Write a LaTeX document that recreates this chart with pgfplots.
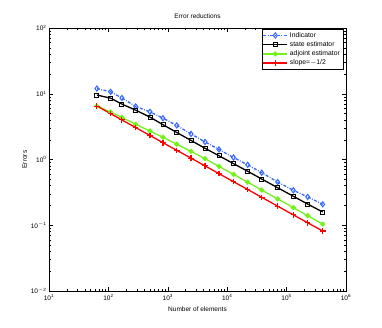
\documentclass[border=0pt]{standalone}
\usepackage{fontspec}
\setmainfont{Liberation Sans}
\usepackage{pgfplots}
\pgfplotsset{compat=1.18}
\definecolor{mblue}{rgb}{0.2,0.4,1}
\definecolor{mgreen}{rgb}{0.45,0.95,0.1}

\pgfplotstableread{
N      ind    state  adj    slope
64     12.0   9.56   6.50   6.50
109    10.7   8.57   5.28   4.98
169    8.6    6.96   4.36   4.00
288    6.4    5.63   3.43   3.06
502    5.3    4.41   2.71   2.32
830    4.25   3.38   2.18   1.80
1413   3.3    2.58   1.71   1.38
2460   2.45   1.95   1.33   1.05
4230   1.85   1.48   1.03   0.80
7280   1.42   1.14   0.785  0.609
12770  1.07   0.865  0.595  0.460
22130  0.83   0.662  0.452  0.350
38100  0.63   0.505  0.343  0.266
70800  0.455  0.372  0.251  0.195
129700 0.34   0.276  0.186  0.144
226500 0.27   0.210  0.140  0.109
405600 0.208  0.159  0.104  0.0817
}\errtab

\begin{document}
\begin{tikzpicture}[x=1pt,y=1pt]
\path[use as bounding box] (0,0) rectangle (382,327);
\begin{axis}[
    at={(49pt,36pt)}, anchor=south west,
    scale only axis, width=297pt, height=263pt,
    xmode=log, ymode=log,
    xmin=10, xmax=1e6, ymin=1e-2, ymax=1e2,
    font=\fontsize{6.5}{7.5}\selectfont,
    axis line style={line width=0.6pt},
    tick align=inside,
    tick style={black, line width=0.4pt},
    major tick length=4pt, minor tick length=2pt,
    xtick={10,100,1000,10000,100000,1000000},
    xticklabels={10\textsuperscript{1},10\textsuperscript{2},10\textsuperscript{3},10\textsuperscript{4},10\textsuperscript{5},10\textsuperscript{6}},
    ytick={0.01,0.1,1,10,100},
    yticklabels={10\textsuperscript{$-$2},10\textsuperscript{$-$1},10\textsuperscript{0},10\textsuperscript{1},10\textsuperscript{2}},
    yticklabel style={xshift=1pt},
    title={Error reductions},
    xlabel={Number of elements},
    ylabel={Errors},
    ylabel style={yshift=-3pt},
    legend style={at={(0.99,0.996)}, anchor=north east, draw=black,
        font=\fontsize{6.8}{7.8}\selectfont, inner sep=1pt,
        row sep=-1.2pt},
    legend cell align=left,
    legend image code/.code={
        \draw[mark repeat=2,mark phase=2,#1]
        plot coordinates {(0cm,0cm) (0.42cm,0cm) (0.84cm,0cm)};},
]
\addplot[mblue, line width=1.3pt, dash pattern=on 3pt off 1.5pt on 0.8pt off 1.5pt,
    mark=diamond, mark size=2.6pt, mark options={solid, line width=1pt}]
    table[x=N, y=ind] {\errtab};
\addplot[black, line width=1.3pt, mark=square, mark size=2pt,
    mark options={solid, line width=0.9pt}]
    table[x=N, y=state] {\errtab};
\addplot[mgreen, line width=1.3pt, mark=*, mark size=1.9pt,
    mark options={solid}]
    table[x=N, y=adj] {\errtab};
\addplot[red, line width=1.3pt, mark=+, mark size=2.8pt,
    mark options={solid, line width=1.1pt}]
    table[x=N, y=slope] {\errtab};
\legend{Indicator, state estimator, adjoint estimator, slope=$-$1/2}
\end{axis}
\end{tikzpicture}
\end{document}
